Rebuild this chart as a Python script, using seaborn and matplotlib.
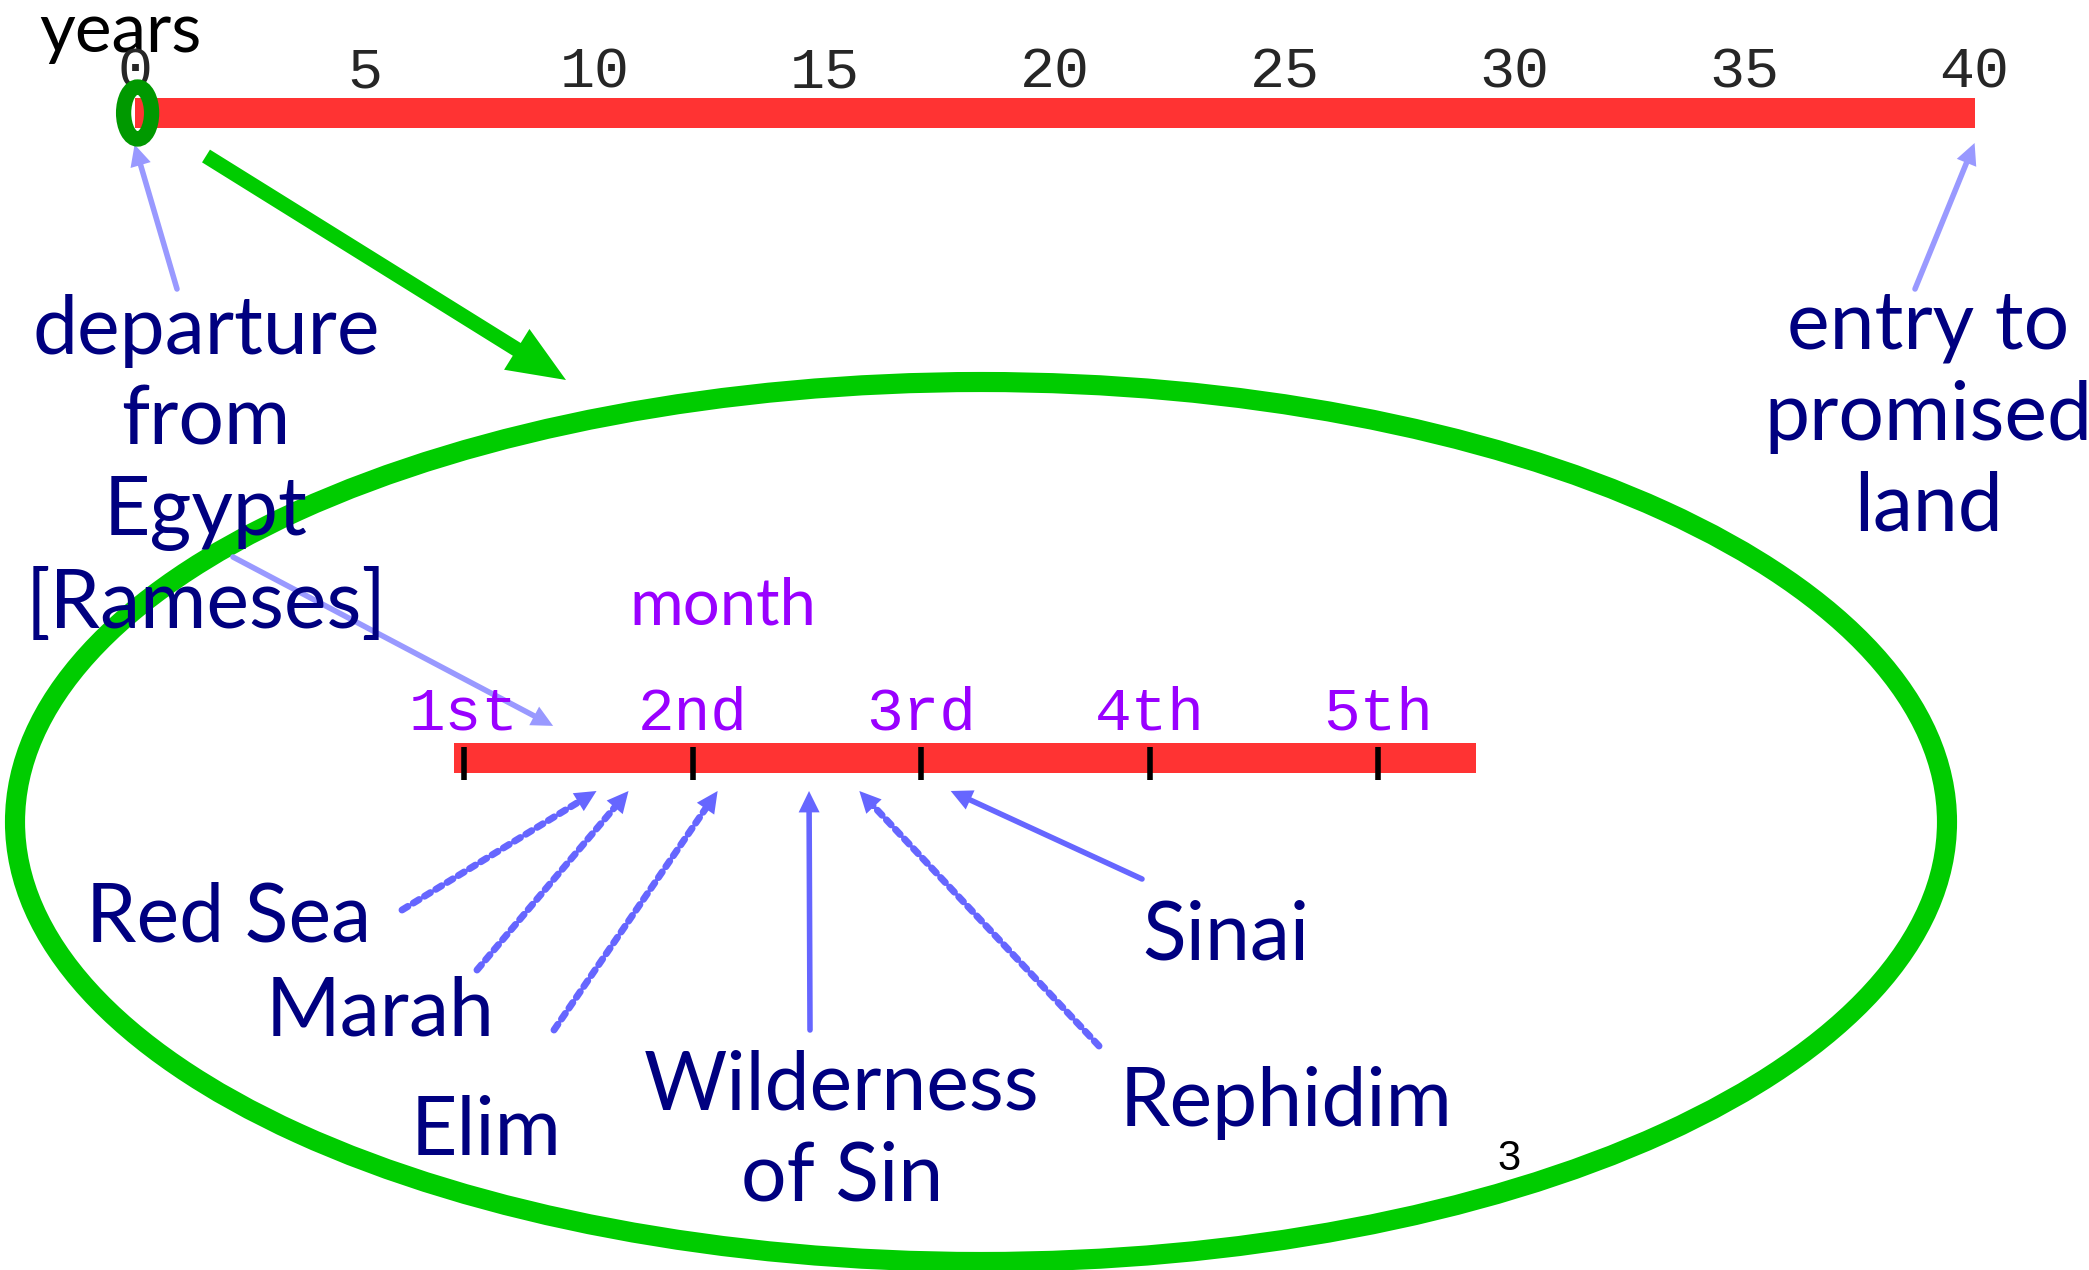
import matplotlib
matplotlib.use("Agg")
import matplotlib.pyplot as plt
import seaborn as sns
import pandas as pd
from matplotlib.patches import Ellipse

# ---------------- data ----------------
year_ticks = [0, 5, 10, 15, 20, 25, 30, 35, 40]
journey_years = [40]                      # length of the wandering (years)
departure_year = 0
entry_year = 40
month_ticks = [1, 2, 3, 4, 5]
month_labels = ["1st", "2nd", "3rd", "4th", "5th"]
month_bar_start = 0.956
month_bar_end = [5.43]
rameses_month = 1.39
stations = ["Red Sea", "Marah", "Elim", "Wilderness\nof Sin", "Rephidim", "Sinai"]
station_month = [1.58, 1.72, 2.11, 2.51, 2.73, 3.13]
station_dotted = [True, True, True, False, True, False]

# ---------------- layout (pixels) ----------------
W, H, DPI = 2089, 1270, 100
Y0_X, Y_PX = 134.6, 46.0          # year 0 position, px per year
M1_X, M_PX = 464.0, 228.5         # month 1 position, px per month
YBAR = (98, 128)
MBAR = (743, 773)

NAVY = "#000080"
RED = "#FF3333"
PURPLE = "#9900FF"
LIGHT = "#9999FF"
MID = "#6666FF"
GREEN = "#00CC00"
DKGREEN = "#009900"
HAND = ["Lato", "DejaVu Sans"]
MONO = ["Liberation Mono", "DejaVu Sans Mono"]

sns.set_style("white")
plt.rcParams["font.family"] = ["Lato", "DejaVu Sans"]

fig = plt.figure(figsize=(W / DPI, H / DPI), dpi=DPI)
fig.patch.set_facecolor("white")


def rect(x0, y0, x1, y1):
    return [x0 / W, 1 - y1 / H, (x1 - x0) / W, (y1 - y0) / H]


ax_bg = fig.add_axes([0, 0, 1, 1])
ax_bg.set_xlim(0, W)
ax_bg.set_ylim(H, 0)
ax_bg.axis("off")

# ---------------- year timeline ----------------
x_left = Y0_X + (year_ticks[0]) * Y_PX
x_right = Y0_X + year_ticks[-1] * Y_PX
ax_y = fig.add_axes(rect(x_left, YBAR[0], x_right, YBAR[1]))
df_y = pd.DataFrame({"span": ["years"], "years": journey_years})
sns.barplot(data=df_y, x="years", y="span", orient="h", color=RED,
            saturation=1, width=1.0, linewidth=0, ax=ax_y)
ax_y.set_xlim(year_ticks[0], year_ticks[-1])
ax_y.set_ylim(0.5, -0.5)
ax_y.xaxis.tick_top()
ax_y.set_xticks(year_ticks)
ax_y.set_xticklabels([str(t) for t in year_ticks], family=MONO, fontsize=42)
ax_y.tick_params(axis="x", length=0, pad=-1)
ax_y.set_yticks([])
ax_y.set_xlabel("")
ax_y.set_ylabel("")
for s in ax_y.spines.values():
    s.set_visible(False)
ax_y.patch.set_alpha(0)
ax_y.add_patch(Ellipse((departure_year + 3 / Y_PX, 0), width=28 / Y_PX, height=52 / 30,
                       fill=False, edgecolor=DKGREEN, lw=11, clip_on=False, zorder=5))

# ---------------- month timeline ----------------
mx0 = M1_X + (month_bar_start - 1) * M_PX
mx1 = M1_X + (month_bar_end[0] - 1) * M_PX
ax_m = fig.add_axes(rect(mx0, MBAR[0], mx1, MBAR[1]))
df_m = pd.DataFrame({"span": ["month"], "month": month_bar_end})
sns.barplot(data=df_m, x="month", y="span", orient="h", color=RED,
            saturation=1, width=1.0, linewidth=0, ax=ax_m)
ax_m.set_xlim(month_bar_start, month_bar_end[0])
ax_m.set_ylim(0.5, -0.5)
ax_m.xaxis.tick_top()
ax_m.set_xticks(month_ticks)
ax_m.set_xticklabels(month_labels, family=MONO, fontsize=44, color=PURPLE)
ax_m.tick_params(axis="x", length=0, pad=0)
ax_m.set_yticks([])
ax_m.set_xlabel("")
ax_m.set_ylabel("")
for s in ax_m.spines.values():
    s.set_visible(False)
ax_m.patch.set_alpha(0)
ax_m.vlines(month_ticks, -0.23, 0.87, transform=ax_m.get_xaxis_transform(),
            colors="black", lw=4, clip_on=False, zorder=5)

# ---------------- big green ellipse & arrow ----------------
ax_bg.add_patch(Ellipse((981, 822), width=1932, height=880, fill=False,
                        edgecolor=GREEN, lw=14.5, zorder=1))
ax_bg.arrow(206, 156, 566 - 206, 380 - 156, width=15, head_width=48,
            head_length=58, length_includes_head=True, color=GREEN, lw=0, zorder=2)


def arrow(xy, xycoords, start, color, dotted=False):
    ax_bg.annotate("", xy=xy, xycoords=xycoords, xytext=start, textcoords=ax_bg.transData,
                   arrowprops=dict(arrowstyle="-", color=color, lw=5 if dotted else 4,
                                   linestyle=(0, (1, 0.9)) if dotted else "-",
                                   shrinkA=0, shrinkB=12), zorder=3)
    ax_bg.annotate("", xy=xy, xycoords=xycoords, xytext=start, textcoords=ax_bg.transData,
                   arrowprops=dict(arrowstyle="-|>,head_length=0.55,head_width=0.27",
                                   color=color, lw=0, mutation_scale=28,
                                   shrinkA=0, shrinkB=0), zorder=3)


# top arrows
arrow((departure_year, -0.55), ax_y.get_xaxis_transform(), (177, 289), LIGHT)
arrow((entry_year, -0.5), ax_y.get_xaxis_transform(), (1915, 289), LIGHT)
arrow((rameses_month, 1.57), ax_m.get_xaxis_transform(), (233, 557), LIGHT)

# station arrows
station_starts = [(402, 910), (477, 970), (554, 1030), (810, 1030), (1099, 1046), (1142, 879)]
for m, st, dot in zip(station_month, station_starts, station_dotted):
    arrow((m, -0.6), ax_m.get_xaxis_transform(), st, MID, dotted=dot)

# ---------------- texts ----------------
tk = dict(ha="center", va="center", family=HAND, zorder=6)
ax_bg.text(120, 32, "years", color="black", fontsize=50, **tk)
ax_bg.text(723, 606, "month", color=PURPLE, fontsize=47, **tk)
ax_bg.text(206, 468, "departure\nfrom\nEgypt\n[Rameses]", color=NAVY, fontsize=58,
           linespacing=1.28, **tk)
ax_bg.text(1928, 417, "entry to\npromised\nland", color=NAVY, fontsize=58,
           linespacing=1.28, **tk)
label_pos = [(229, 919), (380, 1013), (486, 1132), (842, 1132), (1286, 1103), (1226, 937)]
for name, (x, y) in zip(stations, label_pos):
    ax_bg.text(x, y, name, color=NAVY, fontsize=58, linespacing=1.28, **tk)
ax_bg.text(1509, 1159, "3", color="black", fontsize=30, ha="center", va="center",
           family=["Liberation Sans", "DejaVu Sans"], zorder=6)

fig.savefig("out.png", dpi=DPI, facecolor="white")
